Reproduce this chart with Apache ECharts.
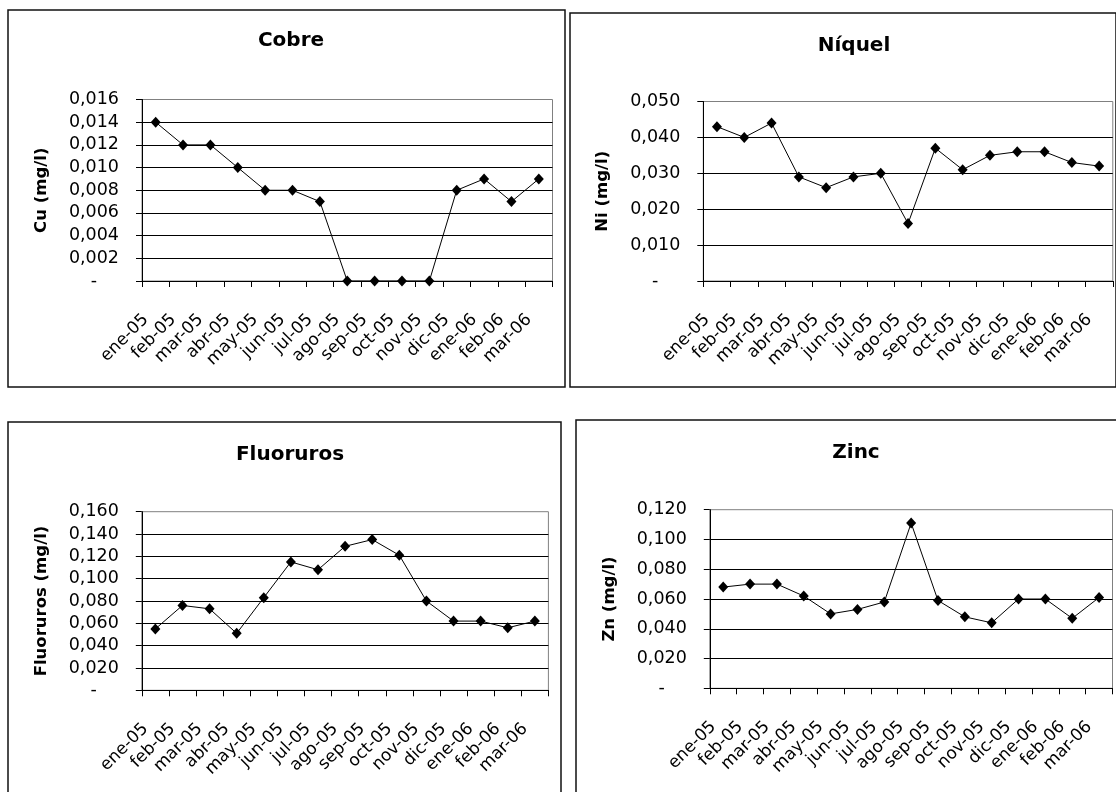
<!DOCTYPE html>
<html>
<head>
<meta charset="utf-8">
<script src="https://cdn.jsdelivr.net/npm/echarts@6/dist/echarts.min.js"></script>
<style>
  html, body { margin: 0; padding: 0; background: #fff; }
  #chart { width: 1116px; height: 792px; }
</style>
</head>
<body>
<div id="chart"></div>
<script>
// Monthly sampling periods
const months = ['ene-05', 'feb-05', 'mar-05', 'abr-05', 'may-05', 'jun-05', 'jul-05', 'ago-05',
                'sep-05', 'oct-05', 'nov-05', 'dic-05', 'ene-06', 'feb-06', 'mar-06'];

// Concentrations in mg/l
const cobre     = [0.014, 0.012, 0.012, 0.010, 0.008, 0.008, 0.007, 0, 0, 0, 0, 0.008, 0.009, 0.007, 0.009];
const niquel    = [0.043, 0.040, 0.044, 0.029, 0.026, 0.029, 0.030, 0.016, 0.037, 0.031, 0.035, 0.036, 0.036, 0.033, 0.032];
const fluoruros = [0.055, 0.076, 0.073, 0.051, 0.083, 0.115, 0.108, 0.129, 0.135, 0.121, 0.080, 0.062, 0.062, 0.056, 0.062];
const zinc      = [0.068, 0.070, 0.070, 0.062, 0.050, 0.053, 0.058, 0.111, 0.059, 0.048, 0.044, 0.060, 0.060, 0.047, 0.061];

// Panel titles and axis names
const titles    = ['Cobre', 'Níquel', 'Fluoruros', 'Zinc'];
const axisNames = ['Cu (mg/l)', 'Ni (mg/l)', 'Fluoruros (mg/l)', 'Zn (mg/l)'];
const yMax      = [0.016, 0.050, 0.160, 0.120];
const yStep     = [0.002, 0.010, 0.020, 0.020];
const seriesData = [cobre, niquel, fluoruros, zinc];

const FONT = '"DejaVu Sans", "Liberation Sans", Arial, sans-serif';

// Layout of the four panels (plot area, title centre, outer frame)
const layout = [
  { grid: { left: 142, top: 99.5, width: 410.5, height: 181.5 }, title: [286, 38], box: [8, 10, 557, 377] },
  { grid: { left: 703.3, top: 101.5, width: 409.5, height: 179.5 }, title: [849, 43], box: [570, 13, 546, 374] },
  { grid: { left: 141.8, top: 511.7, width: 406.6, height: 178.6 }, title: [285, 452], box: [8, 422, 553, 400] },
  { grid: { left: 709.8, top: 509.7, width: 402.7, height: 178.6 }, title: [851, 450], box: [576, 420, 560, 400] }
];

function yLabel(v) {
  if (Math.abs(v) < 1e-12) return '{z|-}';
  return v.toFixed(3).replace('.', ',');
}

const option = {
  backgroundColor: '#fff',
  animation: false,
  title: layout.map((p, i) => ({
    text: titles[i],
    left: p.title[0],
    top: p.title[1] - 12,
    textAlign: 'center',
    textStyle: { fontFamily: FONT, fontSize: 20, fontWeight: 'bold', color: '#000' }
  })),
  grid: layout.map(p => Object.assign({
    show: true,
    backgroundColor: 'transparent',
    borderColor: '#808080',
    borderWidth: 1
  }, p.grid)),
  xAxis: layout.map((p, i) => ({
    type: 'category',
    gridIndex: i,
    data: months,
    boundaryGap: true,
    axisLine: { show: true, lineStyle: { color: '#000', width: 1 } },
    axisTick: { show: true, length: 6, interval: 0, lineStyle: { color: '#000' } },
    axisLabel: {
      interval: 0,
      rotate: 45,
      margin: 26,
      padding: [0, 14, 0, 0],
      fontFamily: FONT,
      fontSize: 17,
      color: '#000'
    },
    splitLine: { show: false }
  })),
  yAxis: layout.map((p, i) => ({
    type: 'value',
    gridIndex: i,
    min: 0,
    max: yMax[i],
    interval: yStep[i],
    name: axisNames[i],
    nameLocation: 'middle',
    nameGap: 92,
    nameTextStyle: { fontFamily: FONT, fontSize: 16.5, fontWeight: 'bold', color: '#000' },
    axisLine: { show: true, lineStyle: { color: '#000', width: 1 } },
    axisTick: { show: true, length: 6, lineStyle: { color: '#000' } },
    axisLabel: {
      margin: 23,
      fontFamily: FONT,
      fontSize: 17.5,
      color: '#000',
      formatter: yLabel,
      rich: { z: { fontFamily: FONT, fontSize: 17.5, color: '#000', padding: [0, 22, 0, 0] } }
    },
    splitLine: { show: true, showMaxLine: false, lineStyle: { color: '#000', width: 1 } }
  })),
  series: seriesData.map((d, i) => ({
    type: 'line',
    xAxisIndex: i,
    yAxisIndex: i,
    data: d,
    symbol: 'diamond',
    symbolSize: [10, 11],
    showSymbol: true,
    itemStyle: { color: '#000' },
    lineStyle: { color: '#000', width: 1 },
    z: 5
  })),
  graphic: layout.map(p => ({
    type: 'rect',
    silent: true,
    z: -1,
    shape: { x: p.box[0], y: p.box[1], width: p.box[2], height: p.box[3] },
    style: { fill: 'none', stroke: '#111', lineWidth: 1.5 }
  }))
};

const chart = echarts.init(document.getElementById('chart'), null, { renderer: 'canvas' });
chart.setOption(option);
</script>
</body>
</html>
